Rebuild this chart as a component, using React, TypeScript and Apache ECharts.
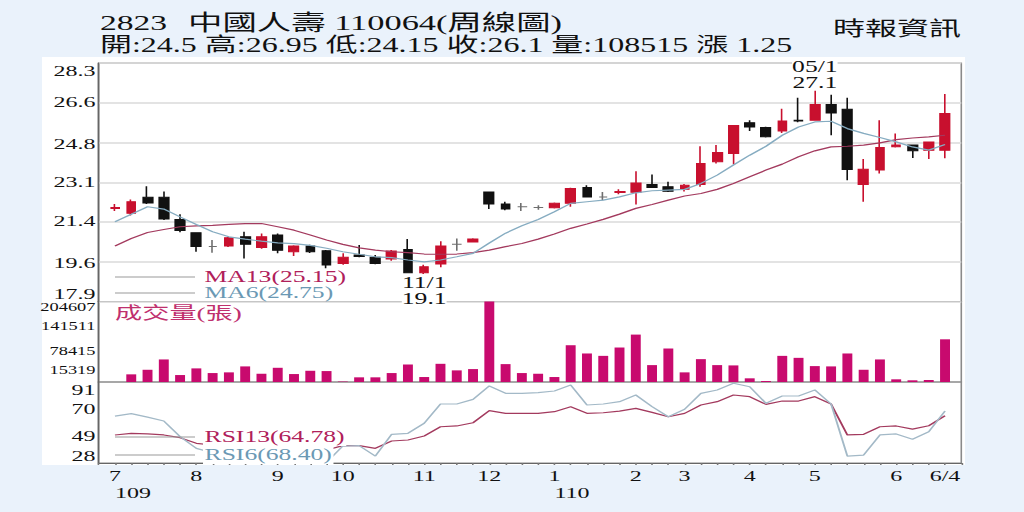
import { useEffect, useRef } from 'react';
import * as echarts from 'echarts';

// The reference is horizontally stretched; draw at narrower width and stretch with CSS.
const SX = 1.6;
const CW = 640;
const CH = 512;

const SERIF = '"Liberation Serif", "Noto Sans CJK TC", serif';

// ---- data (52 weekly bars) ----
const monthTicks = ['7', '', '', '', '', '8', '', '', '', '', '9', '', '', '', '10', '', '', '', '', '11', '', '', '', '12', '', '', '', '1', '', '', '', '', '2', '', '', '3', '', '', '', '4', '', '', '', '5', '', '', '', '', '6', '', '', '6/4'];
const yearTicks = ['109', '', '', '', '', '', '', '', '', '', '', '', '', '', '', '', '', '', '', '', '', '', '', '', '', '', '', '110', '', '', '', '', '', '', '', '', '', '', '', '', '', '', '', '', '', '', '', '', '', '', '', ''];

const openP = [21.95, 21.75, 22.45, 22.45, 21.48, 20.9, 20.3, 20.32, 20.72, 20.26, 20.8, 20.07, 20.32, 20.11, 19.56, 19.93, 19.83, 19.75, 20.17, 19.15, 19.53, 20.4, 20.5, 22.68, 22.15, 22.03, 22.0, 21.99, 22.18, 22.87, 22.46, 22.65, 22.66, 23.0, 22.9, 22.79, 23.0, 23.99, 24.35, 25.69, 25.49, 25.34, 25.8, 25.8, 26.49, 26.28, 23.0, 23.63, 24.65, 24.72, 24.5, 24.5];
const closeP = [22.0, 22.25, 22.2, 21.5, 21.0, 20.3, 20.3, 20.68, 20.4, 20.72, 20.14, 20.32, 20.07, 19.49, 19.83, 19.86, 19.56, 20.1, 19.15, 19.42, 20.32, 20.4, 20.63, 22.15, 21.93, 22.03, 22.0, 22.18, 22.83, 22.46, 22.46, 22.7, 23.07, 22.87, 22.71, 22.97, 23.92, 24.4, 25.57, 25.51, 25.08, 25.77, 25.77, 26.49, 26.12, 23.66, 23.67, 24.62, 24.72, 24.47, 24.85, 26.1];
const lowP = [21.85, 21.65, 22.15, 21.45, 20.92, 20.07, 20.03, 20.28, 19.78, 20.2, 20.0, 19.88, 20.02, 19.35, 19.5, 19.83, 19.52, 19.68, 19.15, 19.1, 19.39, 20.11, 20.47, 21.93, 21.88, 21.85, 21.9, 21.95, 22.03, 22.43, 22.32, 22.58, 22.13, 22.85, 22.68, 22.7, 22.9, 23.92, 23.89, 25.33, 25.05, 25.25, 25.72, 25.78, 25.15, 23.19, 22.25, 23.48, 24.62, 24.16, 24.11, 24.15];
const highP = [22.15, 22.35, 22.93, 22.7, 21.7, 20.92, 20.58, 20.72, 20.94, 20.87, 20.87, 20.35, 20.38, 20.15, 20.0, 20.36, 19.93, 20.15, 20.62, 19.5, 20.53, 20.65, 20.66, 22.7, 22.25, 22.2, 22.1, 22.22, 22.86, 22.97, 22.68, 22.8, 23.58, 23.44, 23.12, 23.02, 24.67, 24.72, 25.6, 25.8, 25.52, 26.31, 26.78, 27.1, 26.92, 26.78, 24.11, 25.8, 25.23, 24.75, 24.85, 26.95];
const ma13 = [20.32, 20.65, 20.91, 21.04, 21.16, 21.2, 21.22, 21.26, 21.3, 21.3, 21.16, 21.01, 20.8, 20.58, 20.39, 20.24, 20.14, 20.07, 20.03, 19.97, 19.96, 19.97, 20.03, 20.14, 20.29, 20.43, 20.62, 20.84, 21.09, 21.28, 21.48, 21.71, 21.96, 22.13, 22.32, 22.5, 22.61, 22.79, 23.05, 23.34, 23.63, 23.89, 24.21, 24.47, 24.64, 24.67, 24.72, 24.82, 24.96, 25.03, 25.08, 25.15];
const ma6 = [21.38, 21.7, 22.03, 21.93, 21.59, 21.26, 20.94, 20.72, 20.62, 20.53, 20.46, 20.42, 20.35, 20.22, 20.07, 19.96, 19.85, 19.81, 19.71, 19.63, 19.71, 19.85, 20.0, 20.45, 20.88, 21.2, 21.48, 21.81, 22.18, 22.25, 22.32, 22.46, 22.64, 22.73, 22.76, 22.79, 23.05, 23.41, 23.85, 24.28, 24.67, 25.15, 25.51, 25.73, 25.76, 25.44, 25.23, 25.05, 24.86, 24.64, 24.5, 24.75];
const volume = [null, 19450, 31070, 57340, 17680, 34600, 22730, 24500, 39660, 20970, 36120, 20210, 28540, 27790, 1200, 11870, 11870, 22730, 44710, 12630, 46230, 29550, 32840, 204607, 45470, 22730, 20970, 12630, 93460, 72500, 66430, 87650, 120500, 42940, 85130, 24500, 58100, 42940, 42180, 9350, 2530, 66430, 61380, 40420, 39660, 72500, 31070, 57340, 6820, 4300, 5050, 108515];
const rsi13 = [49.8, 51.1, 50.6, 49.8, 47.7, 43.3, 42.0, 41.0, 40.0, 39.5, 39.0, 38.5, 38.3, 38.1, 41.5, 41.5, 39.4, 45.1, 45.9, 49.0, 56.2, 56.8, 59.3, 68.7, 66.6, 66.6, 66.6, 67.9, 71.8, 66.6, 67.1, 68.4, 70.5, 67.4, 64.0, 66.6, 73.1, 75.7, 80.9, 79.6, 73.6, 76.2, 76.2, 79.6, 73.9, 49.8, 50.3, 56.2, 56.8, 54.4, 57.0, 64.78];
const rsi6 = [64.5, 66.4, 63.7, 60.7, 48.5, 39.4, 36.0, 34.0, 33.0, 31.5, 30.5, 31.0, 29.5, 28.5, 41.2, 41.5, 33.4, 50.3, 51.1, 58.9, 73.9, 73.9, 77.5, 87.9, 82.2, 82.2, 82.7, 84.0, 88.7, 73.1, 73.9, 75.7, 80.9, 71.8, 64.0, 69.8, 82.2, 84.8, 90.0, 87.3, 74.4, 80.1, 80.1, 84.8, 73.9, 33.4, 34.2, 49.8, 50.6, 46.4, 52.3, 68.4];

const priceTicks = [17.9, 19.6, 21.4, 23.1, 24.8, 26.6, 28.3];
const volumeTicks = [15319, 78415, 141511, 204607];
const rsiTicks = [28, 49, 70, 91];

const annoIndex = [19, 43];
const annoDate = ['11/1', '05/1'];

const stockCode = '2823';
const stockTitle = '中國人壽 110064(周線圖)';
const source = '時報資訊';
const volumeTitle = '成交量(張)';

// colours
const RED = '#c8102e';
const BLACK = '#111111';
const DOJI = '#6e6e6e';
const MA13_C = '#a33a5e';
const MA6_C = '#86acc1';
const RSI6_C = '#a3b9c7';
const VOL_C = '#c80a6e';
const LEG13_C = '#b0205a';
const LEG6_C = '#6b99b4';

function buildOption() {
  const n = openP.length;
  const last = n - 1;
  const cats = ['pad-start', ...openP.map((_, i) => 'w' + i), 'pad-end'];
  const padMonth = ['', ...monthTicks, ''];
  const padYear = ['', ...yearTicks, ''];
  const pad = (arr: any[]) => ['-', ...arr.map((v) => (v === null ? '-' : v)), '-'];
  const candles = [['-', '-', '-', '-'], ...openP.map((o, i) => [o, closeP[i], lowP[i], highP[i]]), ['-', '-', '-', '-']];

  const L = 98.7 / SX;
  const R = CW - 961.3 / SX;

  const summary = `開:${openP[last]} 高:${highP[last]} 低:${lowP[last]} 收:${closeP[last]} 量:${volume[last]} 漲 ${(closeP[last] - closeP[last - 1]).toFixed(2)}`;

  const legendNames: Record<string, string> = {
    MA13: `MA13(${ma13[last].toFixed(2)})`,
    MA6: `MA6(${ma6[last].toFixed(2)})`,
    RSI13: `RSI13(${rsi13[last].toFixed(2)})`,
    RSI6: `RSI6(${rsi6[last].toFixed(2)})`,
  };

  const hiddenX = (gridIndex: number) => ({
    type: 'category',
    gridIndex,
    data: cats,
    boundaryGap: false,
    axisLine: { show: false },
    axisTick: { show: false },
    axisLabel: { show: false },
    splitLine: { show: false },
  });

  const yLabel = (size: number) => ({
    fontFamily: SERIF,
    fontSize: size,
    color: '#111',
    margin: 2,
    showMinLabel: true,
    showMaxLabel: true,
    verticalAlignMinLabel: 'bottom',
    verticalAlignMaxLabel: 'top',
  });

  const grid = (top: number, height: number) => ({
    left: L,
    right: R,
    top,
    height,
    show: true,
    backgroundColor: 'transparent',
    borderColor: '#8a8a8a',
    borderWidth: 1,
    outerBoundsMode: 'none',
    containLabel: false,
  });

  const legendBase = (top: number, lh: number, names: string[], colors: string[]) => ({
    orient: 'vertical',
    left: 115 / SX,
    top,
    padding: 0,
    itemGap: 0,
    itemWidth: 80 / SX,
    itemHeight: 1,
    icon: 'rect',
    selectedMode: false,
    itemStyle: { color: '#9a9a9a', borderWidth: 0 },
    formatter: (name: string) => legendNames[name],
    textStyle: { fontFamily: SERIF, fontSize: 16, lineHeight: lh, backgroundColor: '#fff', padding: [0, 1, 0, 1] },
    data: names.map((name, i) => ({ name, itemStyle: { color: '#9a9a9a' }, textStyle: { color: colors[i] } })),
  });

  return {
    animation: false,
    backgroundColor: 'transparent',
    textStyle: { fontFamily: SERIF },
    grid: [grid(63, 238.5), grid(301.5, 80.5), grid(382, 81)],
    xAxis: [
      hiddenX(0),
      hiddenX(1),
      {
        type: 'category',
        gridIndex: 2,
        data: cats,
        boundaryGap: false,
        axisLine: { show: true, lineStyle: { color: '#666', width: 1 } },
        axisTick: { show: true, interval: 0, length: 2, lineStyle: { color: '#777' } },
        axisLabel: {
          interval: 0,
          fontFamily: SERIF,
          fontSize: 15,
          color: '#111',
          margin: 5,
          formatter: (_v: string, i: number) => padMonth[i],
        },
        splitLine: { show: false },
      },
      {
        type: 'category',
        gridIndex: 2,
        position: 'bottom',
        data: cats,
        boundaryGap: false,
        axisLine: { show: false },
        axisTick: { show: false },
        axisLabel: {
          interval: 0,
          fontFamily: SERIF,
          fontSize: 15,
          color: '#111',
          margin: 22,
          align: 'left',
          padding: [0, 0, 0, 0],
          formatter: (_v: string, i: number) => padYear[i],
        },
        splitLine: { show: false },
      },
    ],
    yAxis: [
      {
        type: 'value',
        gridIndex: 0,
        min: 17.9,
        max: 28.3,
        axisLine: { show: true, lineStyle: { color: '#666' } },
        axisTick: { show: false },
        splitLine: { show: false },
        axisLabel: { ...yLabel(15), customValues: priceTicks, formatter: (v: number) => v.toFixed(1) },
      },
      {
        type: 'value',
        gridIndex: 0,
        min: 0,
        max: 6,
        interval: 1,
        axisLine: { show: false },
        axisTick: { show: false },
        axisLabel: { show: false },
        splitLine: { show: true, lineStyle: { color: '#dadada', width: 1.5 } },
      },
      {
        type: 'value',
        gridIndex: 1,
        min: 0,
        max: 204607,
        axisLine: { show: true, lineStyle: { color: '#666' } },
        axisTick: { show: false },
        splitLine: { show: false },
        axisLabel: { ...yLabel(11.5), customValues: volumeTicks, formatter: (v: number) => String(Math.round(v)) },
      },
      {
        type: 'value',
        gridIndex: 2,
        min: 28,
        max: 91,
        axisLine: { show: true, lineStyle: { color: '#666' } },
        axisTick: { show: false },
        splitLine: { show: false },
        axisLabel: { ...yLabel(15), customValues: rsiTicks, formatter: (v: number) => String(v) },
      },
    ],
    legend: [
      legendBase(269, 16, ['MA13', 'MA6'], [LEG13_C, LEG6_C]),
      legendBase(428, 18, ['RSI13', 'RSI6'], [LEG13_C, LEG6_C]),
    ],
    graphic: [
      {
        type: 'rect',
        z: -10,
        silent: true,
        shape: { x: 42 / SX, y: 57, width: (965 - 42) / SX, height: 408 },
        style: { fill: '#ffffff' },
      },
      {
        type: 'text',
        x: 100 / SX,
        y: 12,
        silent: true,
        style: { text: stockCode, fontFamily: SERIF, fontSize: 21, fill: '#111' },
      },
      {
        type: 'text',
        x: 188 / SX,
        y: 12,
        silent: true,
        style: { text: stockTitle, fontFamily: SERIF, fontSize: 21.5, fill: '#111' },
      },
      {
        type: 'text',
        x: 100 / SX,
        y: 35,
        silent: true,
        style: { text: summary, fontFamily: SERIF, fontSize: 20, fill: '#111' },
      },
      {
        type: 'text',
        x: 833 / SX,
        y: 19,
        silent: true,
        style: { text: source, fontFamily: SERIF, fontSize: 20, fill: '#111' },
      },
      {
        type: 'text',
        x: 115 / SX,
        y: 305,
        silent: true,
        style: { text: volumeTitle, fontFamily: SERIF, fontSize: 17, fill: '#c0306e' },
      },
    ],
    series: [
      {
        type: 'candlestick',
        name: 'K',
        xAxisIndex: 0,
        yAxisIndex: 0,
        barWidth: 6.2,
        data: candles,
        itemStyle: {
          color: RED,
          color0: BLACK,
          borderColor: RED,
          borderColor0: BLACK,
          borderColorDoji: DOJI,
          borderWidth: 1,
        },
        markPoint: {
          symbol: 'rect',
          symbolSize: 0,
          silent: true,
          data: [
            {
              coord: [annoIndex[0] + 1, lowP[annoIndex[0]]],
              label: { position: 'bottom', distance: 1, formatter: `${annoDate[0]}\n${lowP[annoIndex[0]]}` },
            },
            {
              coord: [annoIndex[1] + 1, highP[annoIndex[1]]],
              label: { position: 'top', distance: 0, formatter: `${annoDate[1]}\n${highP[annoIndex[1]]}` },
            },
          ],
          label: {
            show: true,
            fontFamily: SERIF,
            fontSize: 16,
            lineHeight: 16,
            color: '#111',
            backgroundColor: '#fff',
            align: 'center',
          },
        },
        z: 3,
      },
      {
        type: 'line',
        name: 'MA13',
        xAxisIndex: 0,
        yAxisIndex: 0,
        data: pad(ma13),
        showSymbol: false,
        symbol: 'none',
        lineStyle: { color: MA13_C, width: 1.2 },
        itemStyle: { color: MA13_C },
        z: 4,
      },
      {
        type: 'line',
        name: 'MA6',
        xAxisIndex: 0,
        yAxisIndex: 0,
        data: pad(ma6),
        showSymbol: false,
        symbol: 'none',
        lineStyle: { color: MA6_C, width: 1.2 },
        itemStyle: { color: MA6_C },
        z: 4,
      },
      {
        type: 'bar',
        name: 'VOL',
        xAxisIndex: 1,
        yAxisIndex: 2,
        barWidth: 6.2,
        data: pad(volume),
        itemStyle: { color: VOL_C },
      },
      {
        type: 'line',
        name: 'RSI13',
        xAxisIndex: 2,
        yAxisIndex: 3,
        data: pad(rsi13),
        showSymbol: false,
        symbol: 'none',
        lineStyle: { color: MA13_C, width: 1.2 },
        itemStyle: { color: MA13_C },
      },
      {
        type: 'line',
        name: 'RSI6',
        xAxisIndex: 2,
        yAxisIndex: 3,
        data: pad(rsi6),
        showSymbol: false,
        symbol: 'none',
        lineStyle: { color: RSI6_C, width: 1.2 },
        itemStyle: { color: RSI6_C },
      },
    ],
  };
}

export default function App() {
  const ref = useRef<HTMLDivElement>(null);
  useEffect(() => {
    if (!ref.current) return;
    const chart = echarts.init(ref.current, null, { renderer: 'svg' });
    chart.setOption(buildOption() as any);
    return () => chart.dispose();
  }, []);
  return (
    <div
      style={{
        position: 'absolute',
        left: 0,
        top: 0,
        width: 1024,
        height: 512,
        overflow: 'hidden',
        background: '#eaf2fb',
      }}
    >
      <div
        ref={ref}
        style={{ width: CW, height: CH, transform: `scaleX(${SX})`, transformOrigin: '0 0' }}
      />
    </div>
  );
}
